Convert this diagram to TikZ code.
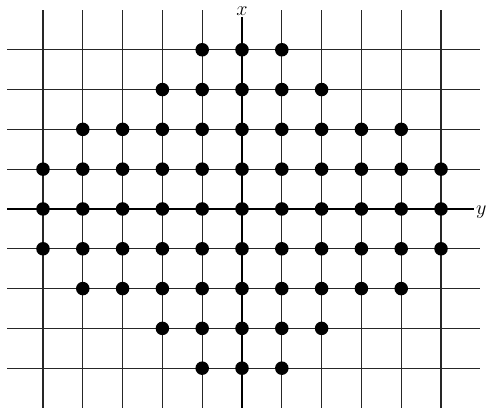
\documentclass[tikz,border=0pt]{standalone}
\usepackage{tikz}
\usetikzlibrary{positioning}

\begin{document}
\begin{tikzpicture}[every node/.style={font=\Large},
  gridline/.style={line width=0.8pt,black!85},
  axis/.style={line width=1.6pt,black},
  dot/.style={circle,fill=black,inner sep=0pt,minimum size=3.4mm}]
\useasboundingbox (-6.08,-5.10) rectangle (6.13,5.25);
% grid
\foreach \c in {-5,...,-1,1,2,3,4,5}
  \draw[gridline] (\c,-5) -- (\c,5);
\foreach \r in {-4,...,-1,1,2,3,4}
  \draw[gridline] (-5.9,\r) -- (5.98,\r);
% axes
\node[inner sep=1pt] (xlab) at (0,4.98) {$x$};
\node[inner sep=1pt,anchor=west] (ylab) at (5.84,-0.08) {$y$};
\coordinate (xbot) at (0,-5);
\coordinate (yleft) at (-5.9,0);
\draw[axis] (xlab.south) -- (xbot);
\draw[axis] (yleft) -- (yleft -| ylab.west);
% lattice points
\foreach \r/\w in {4/1,3/2,2/4,1/5,0/5,-1/5,-2/4,-3/2,-4/1}{
  \pgfmathtruncatemacro\m{-\w}
  \foreach \c in {\m,...,\w}
    \node[dot] (p\r\c) at (\c,\r) {};
}
\end{tikzpicture}
\end{document}
